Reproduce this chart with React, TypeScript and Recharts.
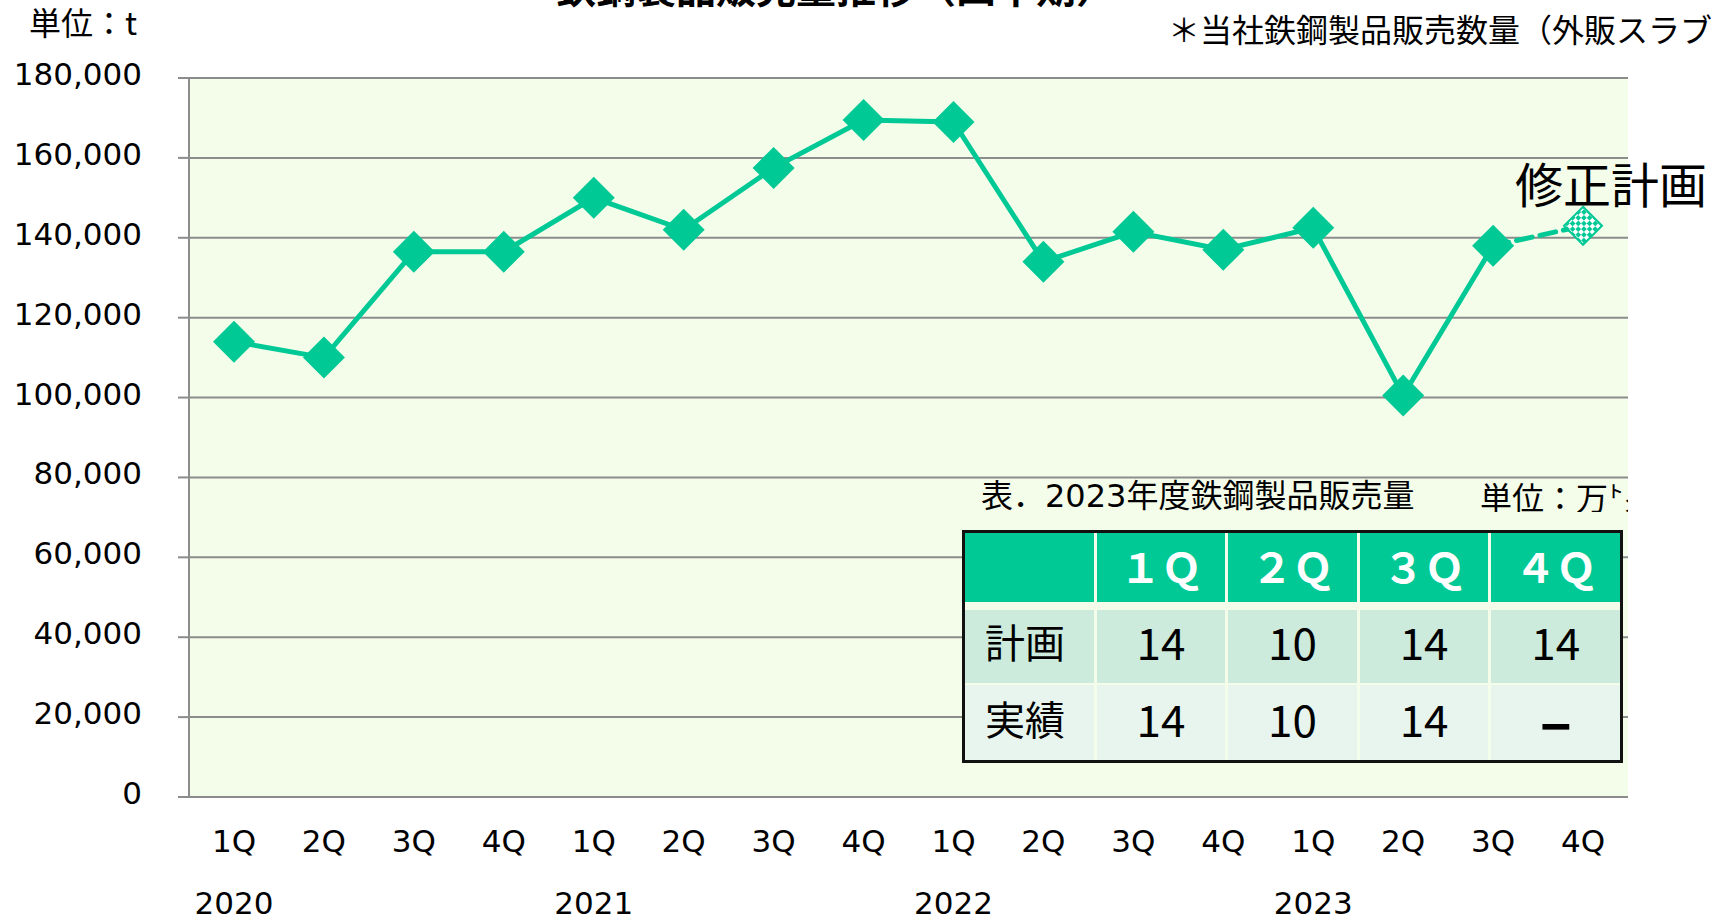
import { CartesianGrid, Line, LineChart, XAxis, YAxis } from "recharts";

const QUARTERS = ["1Q", "2Q", "3Q", "4Q", "1Q", "2Q", "3Q", "4Q", "1Q", "2Q", "3Q", "4Q", "1Q", "2Q", "3Q", "4Q"];
const YEARS = ["2020", "2021", "2022", "2023"];
const ACTUAL = [114000, 110000, 136500, 136500, 150000, 142000, 157500, 169500, 169000, 134000, 141500, 137000, 142500, 100500, 138000, null];
const PLAN = [null, null, null, null, null, null, null, null, null, null, null, null, null, null, 138000, 143000];
const Y_TICKS = [0, 20000, 40000, 60000, 80000, 100000, 120000, 140000, 160000, 180000];

const TABLE_HEAD = ["１Ｑ", "２Ｑ", "３Ｑ", "４Ｑ"];
const TABLE_PLAN = ["14", "10", "14", "14"];
const TABLE_ACTUAL = ["14", "10", "14", "–"];

const GREEN = "#00C996";
const GRID = "#8c8c8c";
const FONT = "'Noto Sans CJK JP', sans-serif";
const AXIS_FONT = "'DejaVu Sans', 'Noto Sans CJK JP', sans-serif";

// x at the middle of each quarter slot, edges at integers
const data = QUARTERS.map((q, i) => ({ x: i + 0.5, q, actual: ACTUAL[i], plan: PLAN[i] }));
const edgeTicks = QUARTERS.map((_, i) => i).concat([QUARTERS.length]);
const midTicks = QUARTERS.map((_, i) => i + 0.5);
const yearTicks = YEARS.map((_, i) => i * 4 + 0.5);

function Diamond(props: any) {
  const { cx, cy, value } = props;
  if (cx == null || cy == null || value == null) return null;
  const r = 21;
  return <polygon points={`${cx},${cy - r} ${cx + r},${cy} ${cx},${cy + r} ${cx - r},${cy}`} fill={GREEN} />;
}

function PlanDiamond(props: any) {
  const { cx, cy, index } = props;
  if (cx == null || cy == null || index !== PLAN.length - 1) return null;
  const r = 19;
  return (
    <polygon
      points={`${cx},${cy - r} ${cx + r},${cy} ${cx},${cy + r} ${cx - r},${cy}`}
      fill="url(#checker)"
      stroke={GREEN}
      strokeWidth={2}
    />
  );
}

const txt = (extra: React.CSSProperties): React.CSSProperties => ({
  position: "absolute",
  fontFamily: FONT,
  whiteSpace: "nowrap",
  color: "#000",
  ...extra,
});

function SalesTable() {
  const cell: React.CSSProperties = {
    display: "flex",
    alignItems: "center",
    justifyContent: "center",
    fontSize: 44,
    color: "#000",
    boxSizing: "border-box",
    paddingBottom: 6,
  };
  const row1: React.CSSProperties = { ...cell, background: "#CCEBDD", marginTop: 8, height: 73, paddingBottom: 12 };
  const row2: React.CSSProperties = { ...cell, background: "#E7F5EE", marginTop: 2, height: 75, paddingBottom: 10 };
  const label: React.CSSProperties = { justifyContent: "flex-start", paddingLeft: 20, fontSize: 40 };
  return (
    <div
      style={{
        position: "absolute",
        left: 962,
        top: 530,
        width: 661,
        height: 233,
        boxSizing: "border-box",
        border: "3px solid #111",
        background: "#F4FCEA",
        fontFamily: FONT,
        display: "grid",
        gridTemplateColumns: "repeat(5, 1fr)",
        gridTemplateRows: "69px 81px 77px",
        columnGap: 3,
      }}
    >
      <div style={{ background: GREEN }} />
      {TABLE_HEAD.map((h) => (
        <div key={h} style={{ ...cell, background: GREEN, color: "#fff", fontWeight: 700, fontSize: 41 }}>
          {h}
        </div>
      ))}
      <div style={{ ...row1, ...label }}>計画</div>
      {TABLE_PLAN.map((v, i) => (
        <div key={"p" + i} style={row1}>
          {v}
        </div>
      ))}
      <div style={{ ...row2, ...label }}>実績</div>
      {TABLE_ACTUAL.map((v, i) => (
        <div key={"a" + i} style={v === "–" ? { ...row2, fontWeight: 700, fontSize: 60 } : row2}>
          {v}
        </div>
      ))}
    </div>
  );
}

export default function App() {
  return (
    <div style={{ position: "absolute", left: 0, top: 0, width: 1711, height: 919, overflow: "hidden", background: "#fff" }}>
      <LineChart width={1711} height={919} data={data} margin={{ top: 78, right: 83, left: 39, bottom: 0 }}>
        <defs>
          <pattern id="checker" width="8" height="8" patternUnits="userSpaceOnUse" patternTransform="rotate(45)">
            <rect width="8" height="8" fill="#ffffff" />
            <rect width="4" height="4" fill={GREEN} />
            <rect x="4" y="4" width="4" height="4" fill={GREEN} />
          </pattern>
        </defs>
        <CartesianGrid vertical={false} stroke={GRID} strokeWidth={2} fill="#F4FDEA" />
        <XAxis
          xAxisId="edge"
          dataKey="x"
          type="number"
          domain={[0, QUARTERS.length]}
          ticks={edgeTicks}
          tick={false}
          tickSize={11}
          height={11}
          stroke={GRID}
          strokeWidth={2}
        />
        <XAxis
          xAxisId="q"
          dataKey="x"
          type="number"
          domain={[0, QUARTERS.length]}
          ticks={midTicks}
          tickFormatter={(v: number) => QUARTERS[Math.floor(v)]}
          axisLine={false}
          tickLine={false}
          tickSize={0}
          tickMargin={22}
          height={60}
          tick={{ fontSize: 31, fill: "#000", fontFamily: AXIS_FONT }}
        />
        <XAxis
          xAxisId="yr"
          dataKey="x"
          type="number"
          domain={[0, QUARTERS.length]}
          ticks={yearTicks}
          tickFormatter={(v: number) => YEARS[Math.floor(v / 4)]}
          axisLine={false}
          tickLine={false}
          tickSize={0}
          tickMargin={24}
          height={51}
          tick={{ fontSize: 31, fill: "#000", fontFamily: AXIS_FONT }}
        />
        <YAxis
          domain={[0, 180000]}
          ticks={Y_TICKS}
          width={150}
          tickSize={11}
          tickMargin={36}
          stroke={GRID}
          strokeWidth={2}
          tickFormatter={(v: number) => v.toLocaleString("en-US")}
          tick={{ fontSize: 31, fill: "#000", fontFamily: AXIS_FONT, dy: -4 }}
        />
        <Line
          xAxisId="edge"
          dataKey="plan"
          stroke={GREEN}
          strokeWidth={5}
          strokeDasharray="16 8"
          strokeLinecap="round"
          dot={<PlanDiamond />}
          activeDot={false}
          isAnimationActive={false}
        />
        <Line
          xAxisId="edge"
          dataKey="actual"
          stroke={GREEN}
          strokeWidth={5}
          dot={<Diamond />}
          activeDot={false}
          isAnimationActive={false}
        />
      </LineChart>

      <div style={txt({ left: 556, top: -34, fontSize: 40, lineHeight: "40px", fontWeight: 700 })}>
        鉄鋼製品販売量推移（四半期）
      </div>
      <div style={txt({ left: 29, top: 5, fontSize: 32, lineHeight: "32px" })}>単位：t</div>
      <div style={txt({ left: 1168, top: 12, fontSize: 32, lineHeight: "32px" })}>
        ＊当社鉄鋼製品販売数量（外販スラブ含む）
      </div>
      <div style={txt({ left: 1515, top: 158, fontSize: 48, lineHeight: "48px" })}>修正計画</div>
      <div style={txt({ left: 981, top: 480, fontSize: 32, lineHeight: "32px", fontFamily: AXIS_FONT })}>
        表．2023年度鉄鋼製品販売量
      </div>
      <div style={txt({ left: 1480, top: 480, width: 148, overflow: "hidden", fontSize: 32, lineHeight: "32px" })}>
        単位：万㌧
      </div>
      <SalesTable />
    </div>
  );
}
